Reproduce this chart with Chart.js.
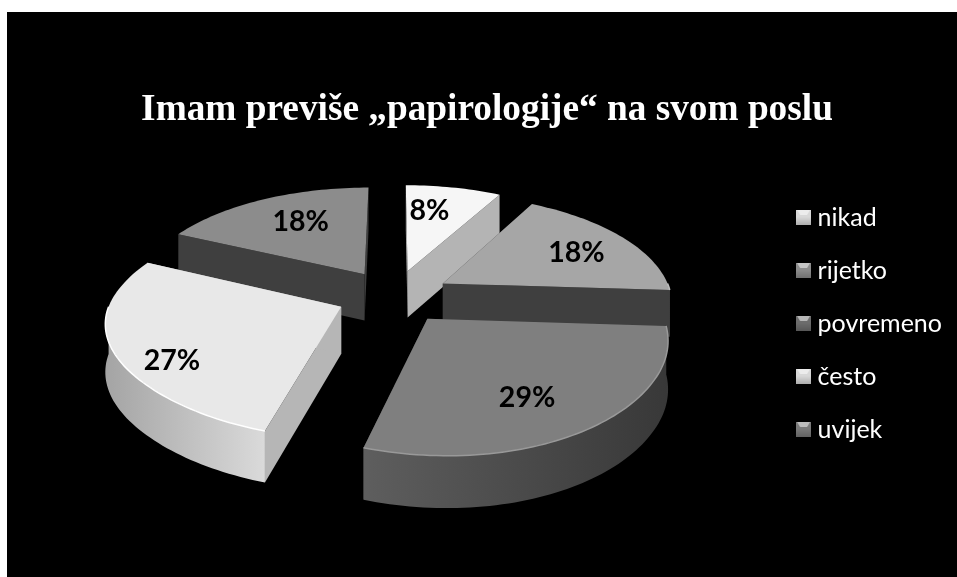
<!DOCTYPE html>
<html>
<head>
<meta charset="utf-8">
<title>Imam previše „papirologije“ na svom poslu</title>
<script src="https://cdn.jsdelivr.net/npm/chart.js@4"></script>
<style>
  html, body { margin: 0; height: 100%; background: #fff; overflow: hidden; }
  #graficoPapiri { position: absolute; left: 7px; top: 12px; background: #000; }
</style>
</head>
<body>
<canvas id="graficoPapiri" width="950" height="565"></canvas>
<script>
const naslov = 'Imam previše „papirologije“ na svom poslu';
const categories = ['nikad', 'rijetko', 'povremeno', 'često', 'uvijek'];
const shares = [8, 18, 29, 27, 18];

const topShades = ['#f6f6f6', '#a6a6a6', '#7f7f7f', '#e8e8e8', '#8c8c8c'];
const sideShades = ['#b4b4b4', '#3f3f3f', '#3f3f3f', '#b6b6b6', '#3f3f3f'];
const rimShades = [['#b4b4b4', '#b4b4b4'], ['#3f3f3f', '#3f3f3f'], ['#5e5e5e', '#383838'],
                   ['#a4a4a4', '#dadada'], ['#3f3f3f', '#3f3f3f']];
const edgeShades = ['#fff', '#bbb', '#999', '#fff', '#aaa'];
const swatchShades = ['#d8d8d8', '#8c8c8c', '#6c6c6c', '#d8d8d8', '#7a7a7a'];
const labelReach = [0.68, 0.71, 0.71, 0.82, 0.66];
const labelTurn = [-0.08, 0.04, 0.08, -0.18, 0.05];

// tilted pie: plane coordinates (radius = 1) to canvas pixels
const view = { x: 387, y: 284, rx: 229, ry: 107, tilt: 0.16, lean: 22, depth: 47 };

function project(u, v, drop) {
    const w = 1 - view.tilt * v;
    // front-left part leans a little to the right
    const lean = v > 0 ? view.lean * v * v * Math.min(Math.max((1 - u) / 2, 0), 1) : 0;
    return [view.x + view.rx * u / w + lean, view.y + view.ry * v / w + (drop ? view.depth / Math.sqrt(w) : 0)];
}

function sliceGeometry(arc) {
    const mid = (arc.startAngle + arc.endAngle) / 2;
    const pull = arc.options.offset / arc.outerRadius;
    return { mid, ox: Math.cos(mid) * pull, oy: Math.sin(mid) * pull };
}

function arcPoints(g, from, to, drop) {
    const pts = [];
    const steps = Math.max(2, Math.ceil(Math.abs(to - from) * 40));
    for (let i = 0; i <= steps; i++) {
        const a = from + (to - from) * i / steps;
        pts.push(project(g.ox + Math.cos(a), g.oy + Math.sin(a), drop));
    }
    return pts;
}

function tracePoly(ctx, pts) {
    ctx.beginPath();
    pts.forEach((p, i) => i ? ctx.lineTo(p[0], p[1]) : ctx.moveTo(p[0], p[1]));
}

function fillPoly(ctx, pts, fill) {
    tracePoly(ctx, pts);
    ctx.closePath();
    ctx.fillStyle = fill;
    ctx.fill();
}

const pie3d = {
    id: 'pie3d',
    beforeDatasetDraw(chart) {
        const ctx = chart.ctx;
        const arcs = chart.getDatasetMeta(0).data.map((arc, i) => ({ arc, i }));
        // back slices first so the front ones cover them
        arcs.sort((a, b) => sliceGeometry(a.arc).oy - sliceGeometry(b.arc).oy);
        arcs.forEach(({ arc, i }) => {
            const g = sliceGeometry(arc);
            const s = arc.startAngle, e = arc.endAngle;

            // radial walls
            [s, e].forEach(a => {
                fillPoly(ctx, [project(g.ox, g.oy), project(g.ox + Math.cos(a), g.oy + Math.sin(a)),
                    project(g.ox + Math.cos(a), g.oy + Math.sin(a), true), project(g.ox, g.oy, true)], sideShades[i]);
            });

            // outer wall, only the part turned to the viewer
            const from = Math.max(s, 0), to = Math.min(e, Math.PI);
            if (to > from) {
                const up = arcPoints(g, from, to, false);
                const down = arcPoints(g, from, to, true).reverse();
                const xs = up.map(p => p[0]);
                const shade = ctx.createLinearGradient(Math.min(...xs), 0, Math.max(...xs), 0);
                shade.addColorStop(0, rimShades[i][0]);
                shade.addColorStop(1, rimShades[i][1]);
                fillPoly(ctx, up.concat(down), shade);
            }

            // top face
            const top = [project(g.ox, g.oy)].concat(arcPoints(g, s, e, false));
            fillPoly(ctx, top, topShades[i]);

            // thin bright bevel along the front edge
            if (to > from) {
                tracePoly(ctx, arcPoints(g, from, to, false));
                ctx.strokeStyle = edgeShades[i];
                ctx.lineWidth = 1.5;
                ctx.stroke();
            }
        });
        return false;
    },
    afterDatasetsDraw(chart) {
        const ctx = chart.ctx;
        ctx.save();
        ctx.font = 'bold 28.5px Lato';
        ctx.fillStyle = '#000';
        ctx.textAlign = 'center';
        ctx.textBaseline = 'middle';
        chart.getDatasetMeta(0).data.forEach((arc, i) => {
            const g = sliceGeometry(arc);
            const r = labelReach[i];
            const a = g.mid + labelTurn[i];
            const p = project(g.ox + Math.cos(a) * r, g.oy + Math.sin(a) * r);
            ctx.fillText(shares[i] + '%', p[0], p[1]);
        });
        ctx.restore();
    }
};

// little bevelled legend swatch
function swatch(shade) {
    const c = document.createElement('canvas');
    c.width = 15;
    c.height = 15;
    const g = c.getContext('2d');
    g.fillStyle = shade;
    g.fillRect(0, 0, 15, 15);
    g.fillStyle = 'rgba(255,255,255,0.5)';
    g.beginPath();
    g.moveTo(1, 0); g.lineTo(14, 0); g.lineTo(11, 5); g.lineTo(4, 5);
    g.closePath();
    g.fill();
    const fade = g.createLinearGradient(0, 7, 0, 15);
    fade.addColorStop(0, 'rgba(0,0,0,0)');
    fade.addColorStop(1, 'rgba(0,0,0,0.2)');
    g.fillStyle = fade;
    g.fillRect(0, 7, 15, 8);
    return c;
}
const legendSwatches = swatchShades.map(swatch);

const ctx = document.getElementById('graficoPapiri').getContext('2d');
const graficoPapiri = new Chart(ctx, {
    type: 'pie',
    data: {
        labels: categories,
        datasets: [{
            data: shares,
            backgroundColor: topShades,
            borderWidth: 0,
            offset: 49
        }]
    },
    options: {
        responsive: false,
        animation: false,
        events: [],
        layout: { padding: { left: 15, right: 5, top: 58 } },
        plugins: {
            tooltip: { enabled: false },
            title: {
                display: true,
                text: naslov,
                color: '#fff',
                font: { family: 'Liberation Serif', size: 37.3, weight: 'bold' },
                padding: { top: 18, bottom: 0 }
            },
            legend: {
                position: 'right',
                labels: {
                    color: '#fff',
                    font: { family: 'Lato', size: 25 },
                    padding: 28,
                    boxHeight: 15,
                    usePointStyle: true,
                    // narrow box so the swatch sits close to its text
                    pointStyleWidth: 3,
                    generateLabels(chart) {
                        return categories.map((name, i) => ({
                            text: name,
                            fillStyle: topShades[i],
                            pointStyle: legendSwatches[i],
                            lineWidth: 0,
                            fontColor: '#fff',
                            index: i
                        }));
                    }
                }
            }
        }
    },
    plugins: [pie3d]
});
</script>
</body>
</html>
